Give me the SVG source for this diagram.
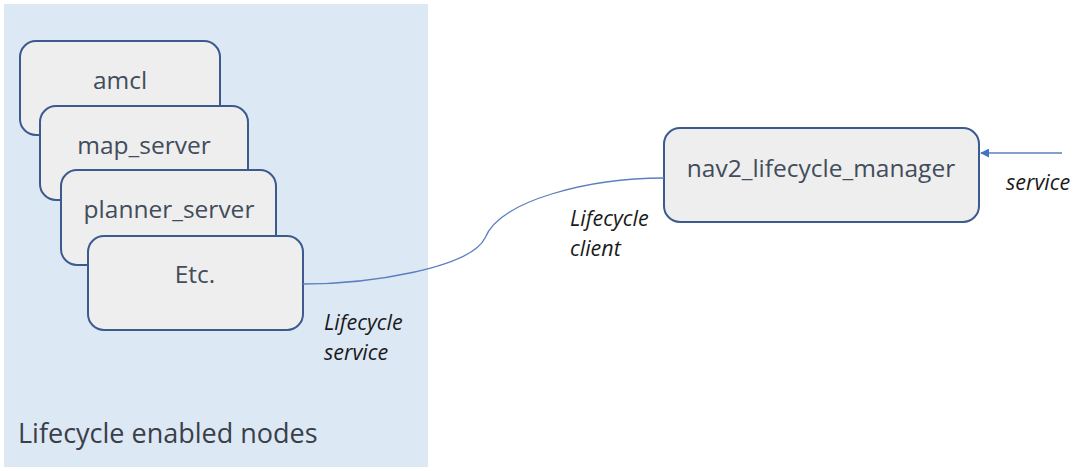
<svg xmlns="http://www.w3.org/2000/svg" width="1080" height="471" viewBox="0 0 1080 471">
<style>
.node rect{fill:#eeeeee;stroke:#3d5a8f;stroke-width:2}
.lbl{font-family:"Open Sans","Noto Sans",sans-serif;font-size:24.5px;fill:#434c5a;text-anchor:middle}
.it{font-family:"Open Sans","Noto Sans",sans-serif;font-size:21.5px;font-style:italic;fill:#1a1a1a}
.conn{fill:none;stroke:#5b7fc0;stroke-width:1.3}
</style>
<defs>
<marker id="arr" viewBox="0 0 10 10" refX="9" refY="5" markerWidth="9" markerHeight="9" orient="auto-start-reverse" markerUnits="userSpaceOnUse">
<path d="M0,0 L10,5 L0,10 z" fill="#4472c4"/>
</marker>
</defs>
<rect width="1080" height="471" fill="#ffffff"/>
<g id="group-lifecycle">
<rect x="4" y="4" width="424" height="463" fill="#dde8f5"/>
<text x="18" y="443" font-family="'Open Sans','Noto Sans',sans-serif" font-size="27" fill="#3a3f48">Lifecycle enabled nodes</text>
</g>
<g id="amcl" class="node">
<rect x="20" y="41" width="200" height="94" rx="16"/>
<text class="lbl" x="120" y="89">amcl</text>
</g>
<g id="map_server" class="node">
<rect x="40" y="106" width="208" height="94" rx="16"/>
<text class="lbl" x="144" y="154">map_server</text>
</g>
<g id="planner_server" class="node">
<rect x="61" y="170" width="215" height="95" rx="16"/>
<text class="lbl" x="169" y="218">planner_server</text>
</g>
<g id="etc" class="node">
<rect x="88" y="236" width="215" height="94" rx="16"/>
<text class="lbl" x="195" y="283">Etc.</text>
</g>
<g id="nav2_lifecycle_manager" class="node">
<rect x="664" y="128" width="315" height="94" rx="16"/>
<text class="lbl" x="821" y="177">nav2_lifecycle_manager</text>
</g>
<g id="connectors">
<path class="conn" d="M303,284 C370,284 470,268 485,238 C500,200 590,178 664,178"/>
<line class="conn" x1="1062" y1="153" x2="981" y2="153" marker-end="url(#arr)" stroke="#4472c4"/>
</g>
<g id="labels">
<text class="it" x="324" y="330">Lifecycle</text>
<text class="it" x="324" y="360">service</text>
<text class="it" x="570" y="226">Lifecycle</text>
<text class="it" x="570" y="256">client</text>
<text class="it" x="1006" y="190">service</text>
</g>
</svg>
